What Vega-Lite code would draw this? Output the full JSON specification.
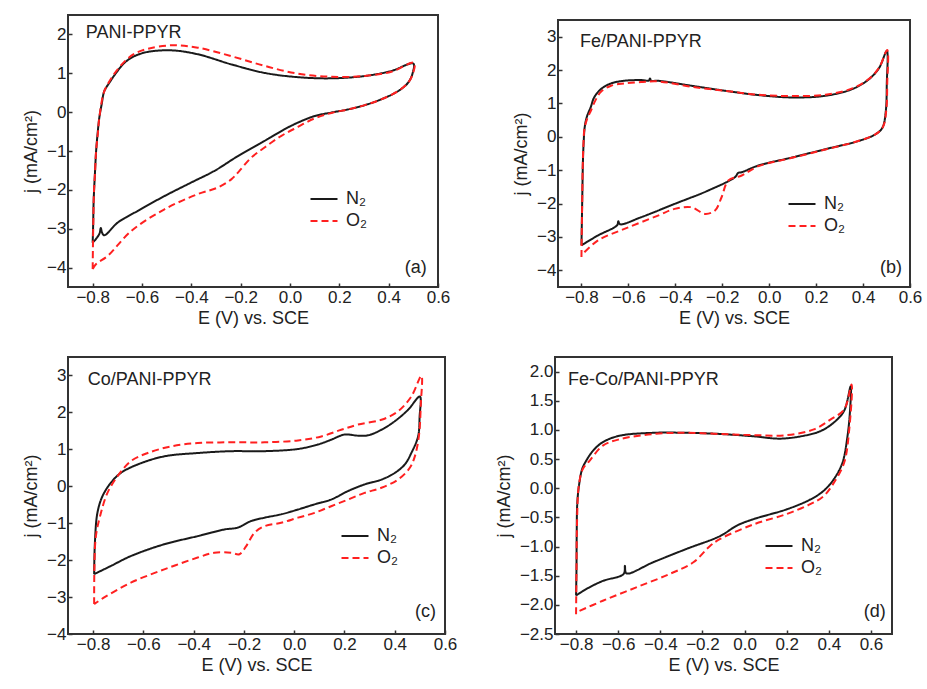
{
"$schema":"https://vega.github.io/schema/vega-lite/v6.json",
"background":"white",
"padding":{"left":21,"top":14,"right":5,"bottom":5},
"config":{
 "font":"Liberation Sans",
 "view":{"stroke":"#333","strokeWidth":2},
 "axis":{"grid":false,"domain":false,"tickColor":"#333","tickWidth":1.5,"tickSize":-4,"labelPadding":6,"labelFontSize":17,"labelColor":"#222","titleFontSize":18,"titleFontWeight":"normal","titleColor":"#222","labelFlush":false,"labelOverlap":false},
 "axisY":{"titlePadding":6},
 "axisX":{"titlePadding":4},
 "legend":{"labelFontSize":18,"labelColor":"#222","symbolType":"M-1.5,0H1.5","symbolStrokeWidth":2,"symbolSize":324,"rowPadding":3,"labelOffset":12},
 "text":{"fontSize":18,"color":"#222"},
 "line":{"interpolate":"catmull-rom"}
},
"spacing":28,
"resolve":{"scale":{"color":"independent","strokeDash":"independent"},"legend":{"color":"independent","strokeDash":"independent"}},
"vconcat":[
{"spacing":60,
 "resolve":{"scale":{"color":"independent","strokeDash":"independent"},"legend":{"color":"independent","strokeDash":"independent"}},
 "hconcat":[
 {"width":370,"height":272,
  "encoding":{
   "x":{"field":"E","type":"quantitative","scale":{"domain":[-0.9,0.6],"nice":false,"zero":false},"axis":{"values":[-0.8,-0.6,-0.4,-0.2,0,0.2,0.4,0.6],"tickCount":20,"format":".1f","title":"E (V) vs. SCE"}},
   "y":{"field":"j","type":"quantitative","scale":{"domain":[-4.5,2.5],"nice":false,"zero":false},"axis":{"values":[-4,-3,-2,-1,0,1,2],"tickCount":20,"format":"d","title":"j (mA/cm²)"}}
  },
  "layer":[
  {"data":{"values":[
{"g":"N₂","i":0,"E":-0.8,"j":-3.36},{"g":"N₂","i":1,"E":-0.798,"j":-2.9},{"g":"N₂","i":2,"E":-0.796,"j":-2.28},{"g":"N₂","i":3,"E":-0.791,"j":-1.6},{"g":"N₂","i":4,"E":-0.786,"j":-1.0},{"g":"N₂","i":5,"E":-0.78,"j":-0.55},{"g":"N₂","i":6,"E":-0.773,"j":-0.14},{"g":"N₂","i":7,"E":-0.763,"j":0.22},{"g":"N₂","i":8,"E":-0.753,"j":0.54},{"g":"N₂","i":9,"E":-0.732,"j":0.76},{"g":"N₂","i":10,"E":-0.705,"j":1.01},{"g":"N₂","i":11,"E":-0.671,"j":1.27},{"g":"N₂","i":12,"E":-0.631,"j":1.44},{"g":"N₂","i":13,"E":-0.577,"j":1.55},{"g":"N₂","i":14,"E":-0.48,"j":1.59},{"g":"N₂","i":15,"E":-0.374,"j":1.49},{"g":"N₂","i":16,"E":-0.238,"j":1.23},{"g":"N₂","i":17,"E":-0.103,"j":1.01},{"g":"N₂","i":18,"E":0.032,"j":0.9},{"g":"N₂","i":19,"E":0.168,"j":0.87},{"g":"N₂","i":20,"E":0.303,"j":0.93},{"g":"N₂","i":21,"E":0.411,"j":1.06},{"g":"N₂","i":22,"E":0.5,"j":1.25},{"g":"N₂","i":23,"E":0.497,"j":1.0},{"g":"N₂","i":24,"E":0.479,"j":0.76},{"g":"N₂","i":25,"E":0.438,"j":0.54},{"g":"N₂","i":26,"E":0.37,"j":0.33},{"g":"N₂","i":27,"E":0.303,"j":0.18},{"g":"N₂","i":28,"E":0.235,"j":0.07},{"g":"N₂","i":29,"E":0.168,"j":-0.01},{"g":"N₂","i":30,"E":0.1,"j":-0.1},{"g":"N₂","i":31,"E":0.032,"j":-0.27},{"g":"N₂","i":32,"E":-0.022,"j":-0.44},{"g":"N₂","i":33,"E":-0.103,"j":-0.74},{"g":"N₂","i":34,"E":-0.211,"j":-1.13},{"g":"N₂","i":35,"E":-0.306,"j":-1.51},{"g":"N₂","i":36,"E":-0.4,"j":-1.81},{"g":"N₂","i":37,"E":-0.509,"j":-2.16},{"g":"N₂","i":38,"E":-0.617,"j":-2.54},{"g":"N₂","i":39,"E":-0.698,"j":-2.84},{"g":"N₂","i":40,"E":-0.753,"j":-3.17},{"g":"N₂","i":41,"E":-0.762,"j":-3.1},{"g":"N₂","i":42,"E":-0.767,"j":-2.98},{"g":"N₂","i":43,"E":-0.772,"j":-3.12},{"g":"N₂","i":44,"E":-0.785,"j":-3.25},{"g":"N₂","i":45,"E":-0.8,"j":-3.36},
{"g":"O₂","i":0,"E":-0.8,"j":-4.04},{"g":"O₂","i":1,"E":-0.799,"j":-3.5},{"g":"O₂","i":2,"E":-0.797,"j":-2.7},{"g":"O₂","i":3,"E":-0.795,"j":-2.1},{"g":"O₂","i":4,"E":-0.79,"j":-1.5},{"g":"O₂","i":5,"E":-0.786,"j":-1.0},{"g":"O₂","i":6,"E":-0.779,"j":-0.55},{"g":"O₂","i":7,"E":-0.773,"j":-0.14},{"g":"O₂","i":8,"E":-0.755,"j":0.5},{"g":"O₂","i":9,"E":-0.735,"j":0.76},{"g":"O₂","i":10,"E":-0.705,"j":1.05},{"g":"O₂","i":11,"E":-0.671,"j":1.3},{"g":"O₂","i":12,"E":-0.631,"j":1.5},{"g":"O₂","i":13,"E":-0.577,"j":1.63},{"g":"O₂","i":14,"E":-0.48,"j":1.72},{"g":"O₂","i":15,"E":-0.374,"j":1.66},{"g":"O₂","i":16,"E":-0.238,"j":1.44},{"g":"O₂","i":17,"E":-0.103,"j":1.19},{"g":"O₂","i":18,"E":0.032,"j":0.99},{"g":"O₂","i":19,"E":0.168,"j":0.91},{"g":"O₂","i":20,"E":0.303,"j":0.93},{"g":"O₂","i":21,"E":0.411,"j":1.04},{"g":"O₂","i":22,"E":0.503,"j":1.27},{"g":"O₂","i":23,"E":0.5,"j":1.02},{"g":"O₂","i":24,"E":0.479,"j":0.76},{"g":"O₂","i":25,"E":0.438,"j":0.54},{"g":"O₂","i":26,"E":0.37,"j":0.33},{"g":"O₂","i":27,"E":0.303,"j":0.18},{"g":"O₂","i":28,"E":0.235,"j":0.07},{"g":"O₂","i":29,"E":0.168,"j":-0.02},{"g":"O₂","i":30,"E":0.1,"j":-0.16},{"g":"O₂","i":31,"E":0.032,"j":-0.38},{"g":"O₂","i":32,"E":-0.035,"j":-0.61},{"g":"O₂","i":33,"E":-0.103,"j":-0.91},{"g":"O₂","i":34,"E":-0.157,"j":-1.17},{"g":"O₂","i":35,"E":-0.205,"j":-1.51},{"g":"O₂","i":36,"E":-0.238,"j":-1.73},{"g":"O₂","i":37,"E":-0.293,"j":-1.94},{"g":"O₂","i":38,"E":-0.374,"j":-2.11},{"g":"O₂","i":39,"E":-0.509,"j":-2.5},{"g":"O₂","i":40,"E":-0.644,"j":-3.06},{"g":"O₂","i":41,"E":-0.739,"j":-3.7},{"g":"O₂","i":42,"E":-0.786,"j":-3.91},{"g":"O₂","i":43,"E":-0.8,"j":-4.04}
  ]},
  "mark":{"type":"line","strokeWidth":2},
  "encoding":{
   "color":{"field":"g","type":"nominal","scale":{"domain":["N₂","O₂"],"range":["#1a1a1a","#ff2020"]},"legend":{"title":null,"orient":"none","legendX":246,"legendY":174}},
   "strokeDash":{"field":"g","type":"nominal","scale":{"domain":["N₂","O₂"],"range":[[1,0],[7,4]]},"legend":{"title":null,"orient":"none","legendX":246,"legendY":174}},
   "order":{"field":"i","type":"quantitative"}
  }},
  {"data":{"values":[{"E":-0.828,"j":2.03,"t":"PANI-PPYR"}]},"mark":{"type":"text","align":"left","baseline":"middle"},"encoding":{"text":{"field":"t"}}},
  {"data":{"values":[{"E":0.554,"j":-4.0,"t":"(a)"}]},"mark":{"type":"text","align":"right","baseline":"middle"},"encoding":{"text":{"field":"t"}}}
  ]},
 {"spacing":3,
  "resolve":{"scale":{"color":"independent","strokeDash":"independent"},"legend":{"color":"independent","strokeDash":"independent"}},
  "vconcat":[
  {"width":352,"height":1,"view":{"stroke":null},"data":{"values":[{"k":0}]},"mark":{"type":"point","opacity":0,"size":0,"strokeWidth":0,"filled":true},"encoding":{}},
  {"width":352,"height":267,
  "encoding":{
   "x":{"field":"E","type":"quantitative","scale":{"domain":[-0.9,0.6],"nice":false,"zero":false},"axis":{"values":[-0.8,-0.6,-0.4,-0.2,0,0.2,0.4,0.6],"tickCount":20,"format":".1f","title":"E (V) vs. SCE"}},
   "y":{"field":"j","type":"quantitative","scale":{"domain":[-4.5,3.5],"nice":false,"zero":false},"axis":{"values":[-4,-3,-2,-1,0,1,2,3],"tickCount":20,"format":"d","title":"j (mA/cm²)"}}
  },
  "layer":[
  {"data":{"values":[
{"g":"N₂","i":0,"E":-0.8,"j":-3.25},{"g":"N₂","i":1,"E":-0.798,"j":-2.4},{"g":"N₂","i":2,"E":-0.796,"j":-1.6},{"g":"N₂","i":3,"E":-0.794,"j":-0.8},{"g":"N₂","i":4,"E":-0.791,"j":-0.22},{"g":"N₂","i":5,"E":-0.786,"j":0.3},{"g":"N₂","i":6,"E":-0.777,"j":0.6},{"g":"N₂","i":7,"E":-0.76,"j":0.9},{"g":"N₂","i":8,"E":-0.746,"j":1.18},{"g":"N₂","i":9,"E":-0.717,"j":1.43},{"g":"N₂","i":10,"E":-0.674,"j":1.6},{"g":"N₂","i":11,"E":-0.617,"j":1.68},{"g":"N₂","i":12,"E":-0.546,"j":1.7},{"g":"N₂","i":13,"E":-0.512,"j":1.69},{"g":"N₂","i":14,"E":-0.508,"j":1.75},{"g":"N₂","i":15,"E":-0.503,"j":1.68},{"g":"N₂","i":16,"E":-0.474,"j":1.68},{"g":"N₂","i":17,"E":-0.331,"j":1.53},{"g":"N₂","i":18,"E":-0.189,"j":1.38},{"g":"N₂","i":19,"E":-0.046,"j":1.25},{"g":"N₂","i":20,"E":0.097,"j":1.18},{"g":"N₂","i":21,"E":0.24,"j":1.23},{"g":"N₂","i":22,"E":0.354,"j":1.43},{"g":"N₂","i":23,"E":0.426,"j":1.73},{"g":"N₂","i":24,"E":0.469,"j":2.07},{"g":"N₂","i":25,"E":0.501,"j":2.57},{"g":"N₂","i":26,"E":0.501,"j":1.58},{"g":"N₂","i":27,"E":0.497,"j":0.78},{"g":"N₂","i":28,"E":0.483,"j":0.28},{"g":"N₂","i":29,"E":0.454,"j":0.08},{"g":"N₂","i":30,"E":0.383,"j":-0.12},{"g":"N₂","i":31,"E":0.24,"j":-0.37},{"g":"N₂","i":32,"E":0.097,"j":-0.62},{"g":"N₂","i":33,"E":-0.046,"j":-0.86},{"g":"N₂","i":34,"E":-0.117,"j":-1.06},{"g":"N₂","i":35,"E":-0.132,"j":-1.08},{"g":"N₂","i":36,"E":-0.146,"j":-1.21},{"g":"N₂","i":37,"E":-0.26,"j":-1.61},{"g":"N₂","i":38,"E":-0.403,"j":-2.01},{"g":"N₂","i":39,"E":-0.546,"j":-2.41},{"g":"N₂","i":40,"E":-0.636,"j":-2.62},{"g":"N₂","i":41,"E":-0.643,"j":-2.53},{"g":"N₂","i":42,"E":-0.648,"j":-2.65},{"g":"N₂","i":43,"E":-0.731,"j":-2.96},{"g":"N₂","i":44,"E":-0.8,"j":-3.25},
{"g":"O₂","i":0,"E":-0.8,"j":-3.6},{"g":"O₂","i":1,"E":-0.799,"j":-3.0},{"g":"O₂","i":2,"E":-0.797,"j":-2.0},{"g":"O₂","i":3,"E":-0.795,"j":-1.0},{"g":"O₂","i":4,"E":-0.792,"j":-0.3},{"g":"O₂","i":5,"E":-0.787,"j":0.25},{"g":"O₂","i":6,"E":-0.775,"j":0.55},{"g":"O₂","i":7,"E":-0.76,"j":0.78},{"g":"O₂","i":8,"E":-0.74,"j":1.1},{"g":"O₂","i":9,"E":-0.717,"j":1.35},{"g":"O₂","i":10,"E":-0.674,"j":1.53},{"g":"O₂","i":11,"E":-0.617,"j":1.6},{"g":"O₂","i":12,"E":-0.546,"j":1.64},{"g":"O₂","i":13,"E":-0.474,"j":1.66},{"g":"O₂","i":14,"E":-0.331,"j":1.5},{"g":"O₂","i":15,"E":-0.189,"j":1.38},{"g":"O₂","i":16,"E":-0.046,"j":1.26},{"g":"O₂","i":17,"E":0.097,"j":1.22},{"g":"O₂","i":18,"E":0.24,"j":1.26},{"g":"O₂","i":19,"E":0.354,"j":1.45},{"g":"O₂","i":20,"E":0.426,"j":1.74},{"g":"O₂","i":21,"E":0.469,"j":2.08},{"g":"O₂","i":22,"E":0.503,"j":2.6},{"g":"O₂","i":23,"E":0.503,"j":1.6},{"g":"O₂","i":24,"E":0.499,"j":0.8},{"g":"O₂","i":25,"E":0.485,"j":0.3},{"g":"O₂","i":26,"E":0.454,"j":0.08},{"g":"O₂","i":27,"E":0.383,"j":-0.12},{"g":"O₂","i":28,"E":0.24,"j":-0.38},{"g":"O₂","i":29,"E":0.097,"j":-0.63},{"g":"O₂","i":30,"E":-0.046,"j":-0.88},{"g":"O₂","i":31,"E":-0.117,"j":-1.16},{"g":"O₂","i":32,"E":-0.174,"j":-1.31},{"g":"O₂","i":33,"E":-0.203,"j":-1.81},{"g":"O₂","i":34,"E":-0.231,"j":-2.21},{"g":"O₂","i":35,"E":-0.274,"j":-2.31},{"g":"O₂","i":36,"E":-0.331,"j":-2.11},{"g":"O₂","i":37,"E":-0.403,"j":-2.16},{"g":"O₂","i":38,"E":-0.474,"j":-2.36},{"g":"O₂","i":39,"E":-0.617,"j":-2.76},{"g":"O₂","i":40,"E":-0.731,"j":-3.11},{"g":"O₂","i":41,"E":-0.8,"j":-3.55}
  ]},
  "mark":{"type":"line","strokeWidth":2},
  "encoding":{
   "color":{"field":"g","type":"nominal","scale":{"domain":["N₂","O₂"],"range":["#1a1a1a","#ff2020"]},"legend":{"title":null,"orient":"none","legendX":234,"legendY":174}},
   "strokeDash":{"field":"g","type":"nominal","scale":{"domain":["N₂","O₂"],"range":[[1,0],[7,4]]},"legend":{"title":null,"orient":"none","legendX":234,"legendY":174}},
   "order":{"field":"i","type":"quantitative"}
  }},
  {"data":{"values":[{"E":-0.806,"j":2.85,"t":"Fe/PANI-PPYR"}]},"mark":{"type":"text","align":"left","baseline":"middle"},"encoding":{"text":{"field":"t"}}},
  {"data":{"values":[{"E":0.566,"j":-3.92,"t":"(b)"}]},"mark":{"type":"text","align":"right","baseline":"middle"},"encoding":{"text":{"field":"t"}}}
  ]}
  ]}
 ]},
{"spacing":36,
 "resolve":{"scale":{"color":"independent","strokeDash":"independent"},"legend":{"color":"independent","strokeDash":"independent"}},
 "hconcat":[
 {"width":377,"height":277,
  "encoding":{
   "x":{"field":"E","type":"quantitative","scale":{"domain":[-0.9,0.6],"nice":false,"zero":false},"axis":{"values":[-0.8,-0.6,-0.4,-0.2,0,0.2,0.4,0.6],"tickCount":20,"format":".1f","title":"E (V) vs. SCE"}},
   "y":{"field":"j","type":"quantitative","scale":{"domain":[-4,3.5],"nice":false,"zero":false},"axis":{"values":[-4,-3,-2,-1,0,1,2,3],"tickCount":20,"format":"d","title":"j (mA/cm²)"}}
  },
  "layer":[
  {"data":{"values":[
{"g":"N₂","i":0,"E":-0.796,"j":-2.38},{"g":"N₂","i":1,"E":-0.793,"j":-1.53},{"g":"N₂","i":2,"E":-0.783,"j":-0.72},{"g":"N₂","i":3,"E":-0.763,"j":-0.27},{"g":"N₂","i":4,"E":-0.73,"j":0.09},{"g":"N₂","i":5,"E":-0.69,"j":0.36},{"g":"N₂","i":6,"E":-0.623,"j":0.59},{"g":"N₂","i":7,"E":-0.517,"j":0.81},{"g":"N₂","i":8,"E":-0.384,"j":0.9},{"g":"N₂","i":9,"E":-0.251,"j":0.95},{"g":"N₂","i":10,"E":-0.118,"j":0.95},{"g":"N₂","i":11,"E":0.015,"j":1.01},{"g":"N₂","i":12,"E":0.094,"j":1.13},{"g":"N₂","i":13,"E":0.147,"j":1.26},{"g":"N₂","i":14,"E":0.2,"j":1.4},{"g":"N₂","i":15,"E":0.254,"j":1.37},{"g":"N₂","i":16,"E":0.294,"j":1.38},{"g":"N₂","i":17,"E":0.347,"j":1.53},{"g":"N₂","i":18,"E":0.4,"j":1.76},{"g":"N₂","i":19,"E":0.453,"j":2.07},{"g":"N₂","i":20,"E":0.5,"j":2.43},{"g":"N₂","i":21,"E":0.499,"j":1.89},{"g":"N₂","i":22,"E":0.493,"j":1.35},{"g":"N₂","i":23,"E":0.466,"j":0.9},{"g":"N₂","i":24,"E":0.44,"j":0.59},{"g":"N₂","i":25,"E":0.4,"j":0.36},{"g":"N₂","i":26,"E":0.347,"j":0.18},{"g":"N₂","i":27,"E":0.28,"j":0.05},{"g":"N₂","i":28,"E":0.214,"j":-0.13},{"g":"N₂","i":29,"E":0.147,"j":-0.36},{"g":"N₂","i":30,"E":0.081,"j":-0.49},{"g":"N₂","i":31,"E":0.015,"j":-0.63},{"g":"N₂","i":32,"E":-0.052,"j":-0.76},{"g":"N₂","i":33,"E":-0.118,"j":-0.85},{"g":"N₂","i":34,"E":-0.171,"j":-0.94},{"g":"N₂","i":35,"E":-0.225,"j":-1.12},{"g":"N₂","i":36,"E":-0.278,"j":-1.17},{"g":"N₂","i":37,"E":-0.384,"j":-1.35},{"g":"N₂","i":38,"E":-0.517,"j":-1.57},{"g":"N₂","i":39,"E":-0.65,"j":-1.89},{"g":"N₂","i":40,"E":-0.73,"j":-2.16},{"g":"N₂","i":41,"E":-0.796,"j":-2.38},
{"g":"O₂","i":0,"E":-0.796,"j":-3.19},{"g":"O₂","i":1,"E":-0.795,"j":-2.25},{"g":"O₂","i":2,"E":-0.789,"j":-1.35},{"g":"O₂","i":3,"E":-0.769,"j":-0.72},{"g":"O₂","i":4,"E":-0.743,"j":-0.18},{"g":"O₂","i":5,"E":-0.703,"j":0.27},{"g":"O₂","i":6,"E":-0.65,"j":0.68},{"g":"O₂","i":7,"E":-0.583,"j":0.9},{"g":"O₂","i":8,"E":-0.49,"j":1.08},{"g":"O₂","i":9,"E":-0.384,"j":1.17},{"g":"O₂","i":10,"E":-0.251,"j":1.19},{"g":"O₂","i":11,"E":-0.118,"j":1.19},{"g":"O₂","i":12,"E":0.015,"j":1.24},{"g":"O₂","i":13,"E":0.108,"j":1.35},{"g":"O₂","i":14,"E":0.187,"j":1.53},{"g":"O₂","i":15,"E":0.254,"j":1.67},{"g":"O₂","i":16,"E":0.347,"j":1.8},{"g":"O₂","i":17,"E":0.413,"j":2.03},{"g":"O₂","i":18,"E":0.466,"j":2.43},{"g":"O₂","i":19,"E":0.506,"j":2.99},{"g":"O₂","i":20,"E":0.504,"j":2.25},{"g":"O₂","i":21,"E":0.496,"j":1.35},{"g":"O₂","i":22,"E":0.48,"j":0.81},{"g":"O₂","i":23,"E":0.46,"j":0.5},{"g":"O₂","i":24,"E":0.413,"j":0.18},{"g":"O₂","i":25,"E":0.347,"j":-0.04},{"g":"O₂","i":26,"E":0.28,"j":-0.18},{"g":"O₂","i":27,"E":0.214,"j":-0.36},{"g":"O₂","i":28,"E":0.147,"j":-0.54},{"g":"O₂","i":29,"E":0.081,"j":-0.72},{"g":"O₂","i":30,"E":0.015,"j":-0.85},{"g":"O₂","i":31,"E":-0.052,"j":-0.99},{"g":"O₂","i":32,"E":-0.118,"j":-1.08},{"g":"O₂","i":33,"E":-0.158,"j":-1.26},{"g":"O₂","i":34,"E":-0.191,"j":-1.62},{"g":"O₂","i":35,"E":-0.218,"j":-1.84},{"g":"O₂","i":36,"E":-0.251,"j":-1.8},{"g":"O₂","i":37,"E":-0.318,"j":-1.8},{"g":"O₂","i":38,"E":-0.384,"j":-1.93},{"g":"O₂","i":39,"E":-0.517,"j":-2.25},{"g":"O₂","i":40,"E":-0.65,"j":-2.61},{"g":"O₂","i":41,"E":-0.756,"j":-3.01},{"g":"O₂","i":42,"E":-0.796,"j":-3.19}
  ]},
  "mark":{"type":"line","strokeWidth":2},
  "encoding":{
   "color":{"field":"g","type":"nominal","scale":{"domain":["N₂","O₂"],"range":["#1a1a1a","#ff2020"]},"legend":{"title":null,"orient":"none","legendX":277,"legendY":169}},
   "strokeDash":{"field":"g","type":"nominal","scale":{"domain":["N₂","O₂"],"range":[[1,0],[7,4]]},"legend":{"title":null,"orient":"none","legendX":277,"legendY":169}},
   "order":{"field":"i","type":"quantitative"}
  }},
  {"data":{"values":[{"E":-0.821,"j":2.88,"t":"Co/PANI-PPYR"}]},"mark":{"type":"text","align":"left","baseline":"middle"},"encoding":{"text":{"field":"t"}}},
  {"data":{"values":[{"E":0.564,"j":-3.41,"t":"(c)"}]},"mark":{"type":"text","align":"right","baseline":"middle"},"encoding":{"text":{"field":"t"}}}
  ]},
 {"width":337,"height":277,
  "encoding":{
   "x":{"field":"E","type":"quantitative","scale":{"domain":[-0.9,0.7],"nice":false,"zero":false},"axis":{"values":[-0.8,-0.6,-0.4,-0.2,0,0.2,0.4,0.6],"tickCount":20,"format":".1f","title":"E (V) vs. SCE"}},
   "y":{"field":"j","type":"quantitative","scale":{"domain":[-2.5,2.25],"nice":false,"zero":false},"axis":{"values":[-2.5,-2,-1.5,-1,-0.5,0,0.5,1,1.5,2],"tickCount":20,"format":".1f","title":"j (mA/cm²)"}}
  },
  "layer":[
  {"data":{"values":[
{"g":"N₂","i":0,"E":-0.8,"j":-1.84},{"g":"N₂","i":1,"E":-0.798,"j":-1.39},{"g":"N₂","i":2,"E":-0.797,"j":-0.82},{"g":"N₂","i":3,"E":-0.794,"j":-0.24},{"g":"N₂","i":4,"E":-0.784,"j":0.1},{"g":"N₂","i":5,"E":-0.771,"j":0.33},{"g":"N₂","i":6,"E":-0.752,"j":0.47},{"g":"N₂","i":7,"E":-0.72,"j":0.64},{"g":"N₂","i":8,"E":-0.673,"j":0.79},{"g":"N₂","i":9,"E":-0.593,"j":0.9},{"g":"N₂","i":10,"E":-0.434,"j":0.95},{"g":"N₂","i":11,"E":-0.275,"j":0.95},{"g":"N₂","i":12,"E":-0.116,"j":0.93},{"g":"N₂","i":13,"E":0.043,"j":0.89},{"g":"N₂","i":14,"E":0.17,"j":0.85},{"g":"N₂","i":15,"E":0.282,"j":0.9},{"g":"N₂","i":16,"E":0.361,"j":0.98},{"g":"N₂","i":17,"E":0.425,"j":1.13},{"g":"N₂","i":18,"E":0.473,"j":1.33},{"g":"N₂","i":19,"E":0.504,"j":1.75},{"g":"N₂","i":20,"E":0.501,"j":1.35},{"g":"N₂","i":21,"E":0.489,"j":0.9},{"g":"N₂","i":22,"E":0.465,"j":0.44},{"g":"N₂","i":23,"E":0.425,"j":0.16},{"g":"N₂","i":24,"E":0.377,"j":-0.04},{"g":"N₂","i":25,"E":0.314,"j":-0.19},{"g":"N₂","i":26,"E":0.202,"j":-0.36},{"g":"N₂","i":27,"E":0.043,"j":-0.53},{"g":"N₂","i":28,"E":-0.036,"j":-0.64},{"g":"N₂","i":29,"E":-0.116,"j":-0.82},{"g":"N₂","i":30,"E":-0.275,"j":-1.04},{"g":"N₂","i":31,"E":-0.434,"j":-1.27},{"g":"N₂","i":32,"E":-0.561,"j":-1.46},{"g":"N₂","i":33,"E":-0.568,"j":-1.33},{"g":"N₂","i":34,"E":-0.574,"j":-1.47},{"g":"N₂","i":35,"E":-0.673,"j":-1.59},{"g":"N₂","i":36,"E":-0.752,"j":-1.73},{"g":"N₂","i":37,"E":-0.8,"j":-1.84},
{"g":"O₂","i":0,"E":-0.8,"j":-2.16},{"g":"O₂","i":1,"E":-0.798,"j":-1.39},{"g":"O₂","i":2,"E":-0.795,"j":-0.53},{"g":"O₂","i":3,"E":-0.787,"j":0.04},{"g":"O₂","i":4,"E":-0.768,"j":0.33},{"g":"O₂","i":5,"E":-0.736,"j":0.47},{"g":"O₂","i":6,"E":-0.673,"j":0.73},{"g":"O₂","i":7,"E":-0.593,"j":0.84},{"g":"O₂","i":8,"E":-0.434,"j":0.93},{"g":"O₂","i":9,"E":-0.275,"j":0.95},{"g":"O₂","i":10,"E":-0.116,"j":0.93},{"g":"O₂","i":11,"E":0.043,"j":0.91},{"g":"O₂","i":12,"E":0.202,"j":0.91},{"g":"O₂","i":13,"E":0.329,"j":1.01},{"g":"O₂","i":14,"E":0.409,"j":1.18},{"g":"O₂","i":15,"E":0.473,"j":1.35},{"g":"O₂","i":16,"E":0.508,"j":1.78},{"g":"O₂","i":17,"E":0.497,"j":1.01},{"g":"O₂","i":18,"E":0.473,"j":0.44},{"g":"O₂","i":19,"E":0.425,"j":0.1},{"g":"O₂","i":20,"E":0.377,"j":-0.13},{"g":"O₂","i":21,"E":0.314,"j":-0.27},{"g":"O₂","i":22,"E":0.202,"j":-0.44},{"g":"O₂","i":23,"E":0.043,"j":-0.62},{"g":"O₂","i":24,"E":-0.116,"j":-0.87},{"g":"O₂","i":25,"E":-0.164,"j":-0.99},{"g":"O₂","i":26,"E":-0.243,"j":-1.27},{"g":"O₂","i":27,"E":-0.355,"j":-1.47},{"g":"O₂","i":28,"E":-0.514,"j":-1.7},{"g":"O₂","i":29,"E":-0.673,"j":-1.93},{"g":"O₂","i":30,"E":-0.8,"j":-2.13}
  ]},
  "mark":{"type":"line","strokeWidth":2},
  "encoding":{
   "color":{"field":"g","type":"nominal","scale":{"domain":["N₂","O₂"],"range":["#1a1a1a","#ff2020"]},"legend":{"title":null,"orient":"none","legendX":214,"legendY":179}},
   "strokeDash":{"field":"g","type":"nominal","scale":{"domain":["N₂","O₂"],"range":[[1,0],[7,4]]},"legend":{"title":null,"orient":"none","legendX":214,"legendY":179}},
   "order":{"field":"i","type":"quantitative"}
  }},
  {"data":{"values":[{"E":-0.838,"j":1.86,"t":"Fe-Co/PANI-PPYR"}]},"mark":{"type":"text","align":"left","baseline":"middle"},"encoding":{"text":{"field":"t"}}},
  {"data":{"values":[{"E":0.67,"j":-2.12,"t":"(d)"}]},"mark":{"type":"text","align":"right","baseline":"middle"},"encoding":{"text":{"field":"t"}}}
  ]}
 ]}
]
}
